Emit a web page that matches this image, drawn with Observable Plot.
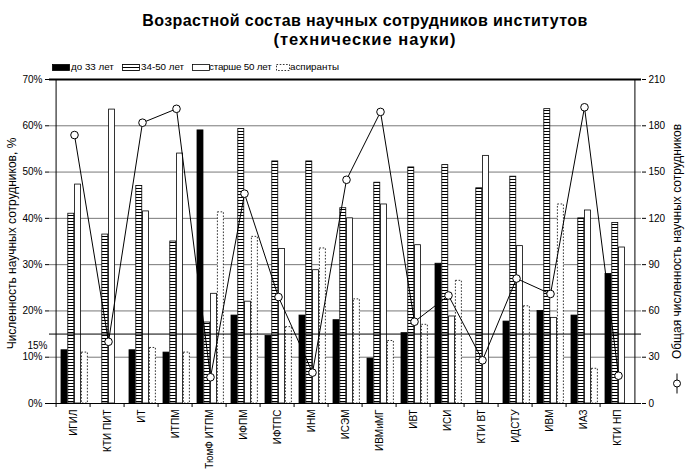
<!DOCTYPE html>
<html><head><meta charset="utf-8">
<script src="https://cdn.jsdelivr.net/npm/d3@7"></script>
<script src="https://cdn.jsdelivr.net/npm/@observablehq/plot@0.6"></script>
<style>
body{margin:0;background:#fff;font-family:"Liberation Sans",Arial,sans-serif;color:#000;}
#wrap{position:relative;width:688px;height:470px;overflow:hidden;background:#fff;}
.title{position:absolute;left:365px;transform:translateX(-50%);white-space:nowrap;font-weight:bold;font-size:16px;letter-spacing:0.4px;line-height:18px;}
.leg{position:absolute;top:61px;font-size:9.8px;line-height:12px;white-space:nowrap;}
.leg svg{position:absolute;top:3px;}
#chart{position:absolute;left:0;top:74px;}
</style></head>
<body>
<svg width="0" height="0" style="position:absolute">
<defs>
<pattern id="hstripe" width="4" height="3" patternUnits="userSpaceOnUse">
<rect width="4" height="3" fill="white"/><rect width="4" height="1" fill="black"/>
</pattern>
</defs></svg>
<div id="wrap">
<div class="title" style="top:12px">Возрастной состав научных сотрудников институтов</div>
<div class="title" style="top:30px;font-size:16.5px;letter-spacing:1px">(технические науки)</div>
<div id="legend"></div>
<div id="chart"></div>
</div>
<script>
const categories = ["ИГИЛ","КТИ ПИТ","ИТ","ИТПМ","ТюмФ ИТПМ","ИФПМ","ИФТПС","ИНМ","ИСЭМ","ИВМиМГ","ИВТ","ИСИ","КТИ ВТ","ИДСТУ","ИВМ","ИАЗ","КТИ НП"];
const under33   = [11.5, 0, 11.5, 11, 59, 19, 14.6, 19, 18, 9.7, 15.2, 30.2, 0, 17.7, 20, 19, 28];
const age34to50 = [41, 36.5, 47, 35, 17.5, 59.3, 52.3, 52.3, 42.2, 47.7, 51, 51.5, 46.5, 49, 63.6, 40, 39];
const over50    = [47.3, 63.5, 41.5, 54, 23.7, 22, 33.4, 28.8, 40, 43, 34.2, 18.8, 53.5, 34, 18.5, 41.7, 33.7];
const aspirants = [11, 0, 12, 11, 41.3, 36, 16.5, 33.5, 22.5, 13.5, 17, 26.5, 0, 21, 43, 7.5, 0];
const totalStaff = [174, 40, 182, 191, 17, 136, 69, 20, 145, 189, 53, 70, 28, 81, 71, 192, 18];
const seriesNames = ["до 33 лет","34-50 лет","старше 50 лет","аспиранты"];
const leftTicks = [0,10,20,30,40,50,60,70];
const rightTicks = [0,30,60,90,120,150,180,210];
const markLine = 15;
const yLabel = "Численность научных сотрудников, %";
const y2Label = "Общая численность научных сотрудников";

const seriesValues = [under33, age34to50, over50, aspirants];
const styles = [
  {fill:"black", stroke:"black"},
  {fill:"url(#hstripe)", stroke:"black"},
  {fill:"white", stroke:"black"},
  {fill:"white", stroke:"black", strokeDasharray:"1.6,1.6"}
];

// legend
const legend = document.getElementById("legend");
const legPos = [[52,71],[122,141],[192,209],[276,290]];
seriesNames.forEach((name,i)=>{
  const s = styles[i];
  const w = i===3?13:17;
  const div = document.createElement("div");
  div.className="leg"; div.style.left = legPos[i][0]+"px";
  if (i===2) div.style.letterSpacing = "-0.2px";
  div.innerHTML = `<svg width="${w+1}" height="8" style="left:0"><rect x="0.5" y="0.5" width="${w}" height="6" fill="${s.fill}" stroke="black" stroke-width="0.8" ${s.strokeDasharray?`stroke-dasharray="${s.strokeDasharray}"`:""}/></svg><span style="position:absolute;left:${legPos[i][1]-legPos[i][0]}px">${name}</span>`;
  legend.appendChild(div);
});

const W = 688, H = 396, mL = 49, mR = 47, mT = 5, mB = 67;
const bw = (W - mL - mR) / categories.length;
const barW = 6.8, pad0 = 5;
const fontFamily = '"Liberation Sans", Arial, sans-serif';

const barMarks = seriesValues.map((vals,i)=>Plot.barY(categories, {
  x: d=>d, y: (d,j)=>vals[j],
  insetLeft: pad0 + i*barW, insetRight: bw - (pad0 + (i+1)*barW),
  ...styles[i], strokeWidth: 0.8
}));

const plot = Plot.plot({
  width: W, height: H, marginLeft: mL, marginRight: mR, marginTop: mT, marginBottom: mB,
  style: {fontFamily, fontSize: "10px", background: "white", color: "black"},
  x: {type: "band", domain: categories, padding: 0},
  y: {domain: [0, 70]},
  marks: [
    Plot.ruleY(leftTicks.filter(t=>t>0 && t<70), {stroke:"#555", strokeWidth:0.8}),
    ...barMarks,
    Plot.ruleY([markLine], {stroke:"black", strokeWidth:1}),
    Plot.ruleY([0], {stroke:"black", strokeWidth:1}),
    Plot.ruleY([70], {stroke:"black", strokeWidth:2}),
    Plot.ruleX([categories[0]], {dx:-bw/2, stroke:"black"}),
    Plot.ruleX([categories[categories.length-1]], {dx:bw/2, stroke:"black"}),
    Plot.line(categories, {x:d=>d, y:(d,i)=>totalStaff[i]/3, stroke:"black", strokeWidth:1, dx:1}),
    Plot.dot(categories, {x:d=>d, y:(d,i)=>totalStaff[i]/3, r:3.8, fill:"white", stroke:"black", strokeWidth:1, dx:1}),
    Plot.axisY(leftTicks, {anchor:"left", tickFormat:d=>d+"%", tickSize:4, tickPadding:3, fontSize:10, label:null}),
    Plot.axisY(rightTicks.map(v=>v/3), {anchor:"right", tickFormat:d=>String(Math.round(d*3)), tickSize:4, tickPadding:3, fontSize:10, label:null}),
    Plot.axisX({tickSize:4, tickFormat:()=>"", dx:-bw/2, label:null}),
    Plot.axisX({tickSize:0, tickPadding:6, tickRotate:-90, fontSize:10, label:null}),
    Plot.text([markLine], {y:d=>d, text:d=>d+"%", frameAnchor:"left", textAnchor:"end", dx:-2, dy:12, fontSize:10}),
    Plot.text([yLabel], {text:d=>d, frameAnchor:"left", textAnchor:"middle", rotate:-90, dx:-37, dy:2, fontSize:12}),
    Plot.text([y2Label], {text:d=>d, frameAnchor:"right", textAnchor:"middle", rotate:-90, dx:36, fontSize:12})
  ]
});
document.getElementById("chart").appendChild(plot);

// right-axis series symbol
const svg = d3.select(plot);
const g = svg.append("g");
const sx = 677, sy = 383.5 - 74;
g.append("line").attr("x1",sx).attr("x2",sx).attr("y1",sy-10).attr("y2",sy+10).attr("stroke","black");
g.append("circle").attr("cx",sx).attr("cy",sy).attr("r",3.5).attr("fill","white").attr("stroke","black");
</script>
</body></html>
